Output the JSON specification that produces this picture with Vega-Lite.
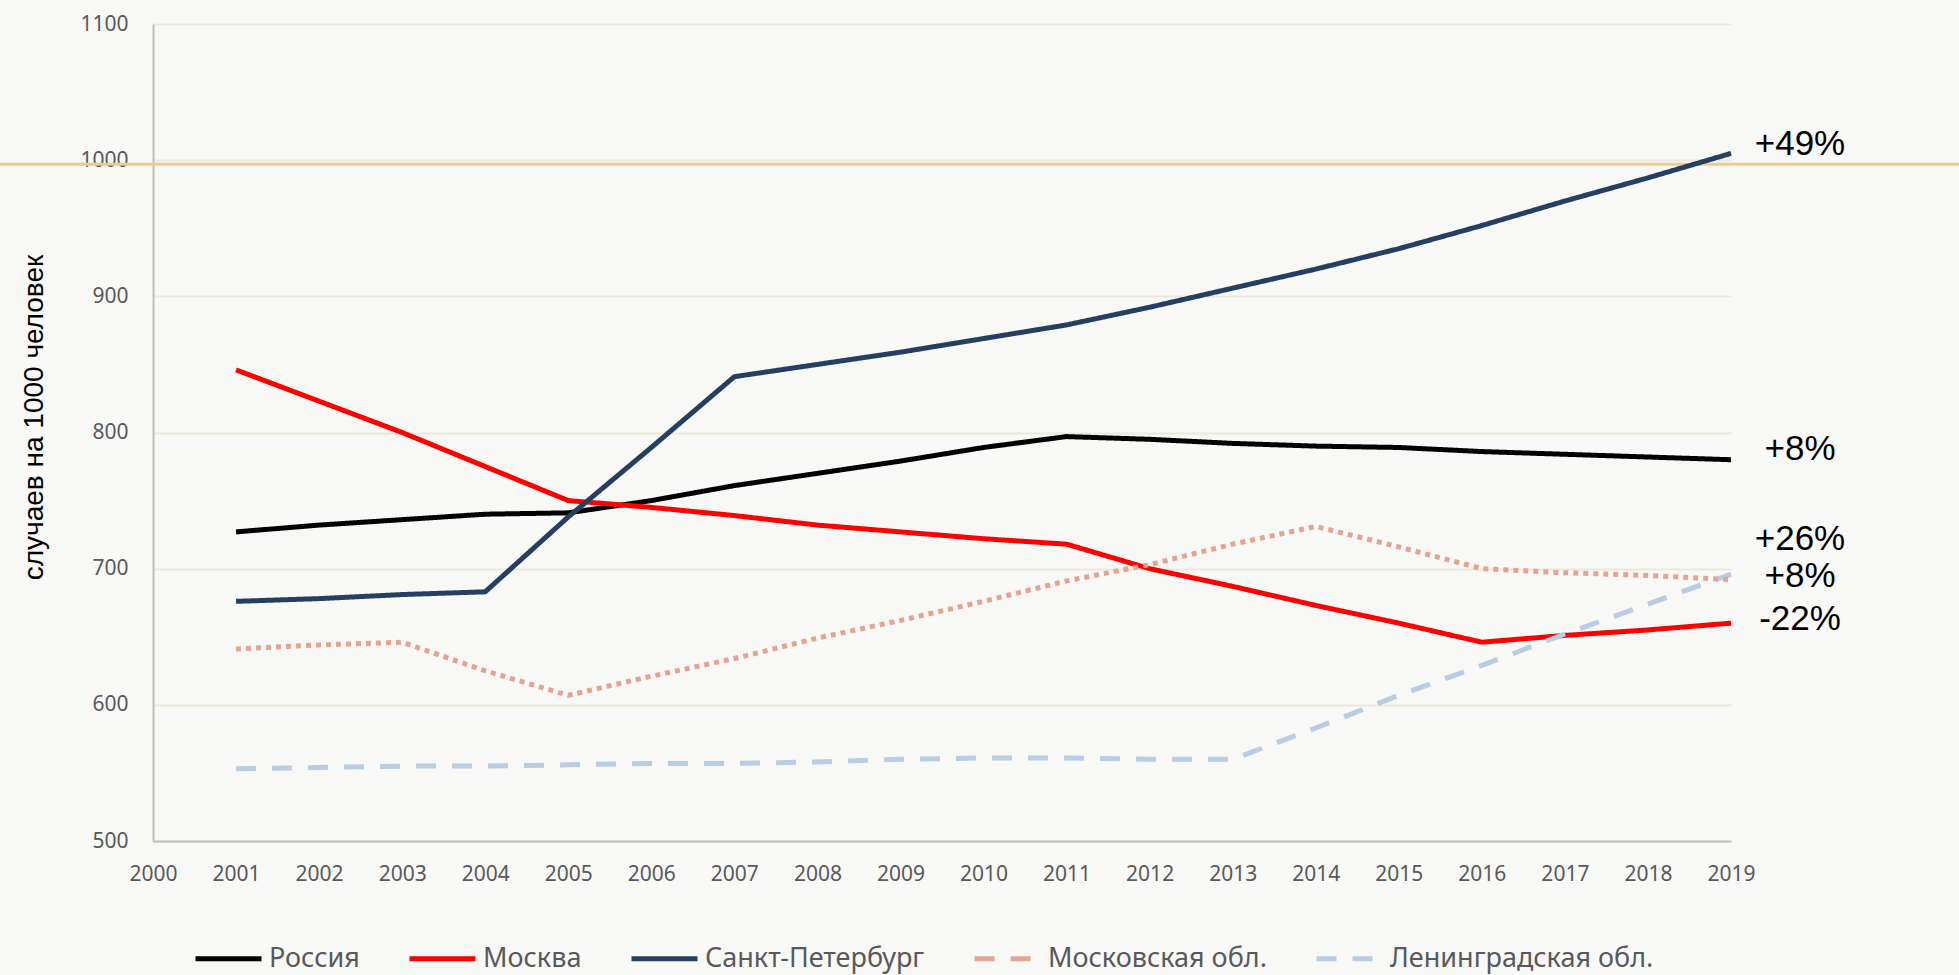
{
  "$schema": "https://vega.github.io/schema/vega-lite/v6.json",
  "autosize": {"type": "none"},
  "width": 1578,
  "height": 817,
  "padding": {"left": 153, "top": 24, "right": 228, "bottom": 134},
  "background": "#F8F8F7",
  "config": {
    "view": {"stroke": null},
    "axis": {"labelFont": "Noto Sans", "labelFontSize": 21, "labelColor": "#595959", "ticks": false, "domainColor": "#BFBFBF", "domainWidth": 2}
  },
  "datasets": {
    "lines": [
      {"year": 2001, "series": "Россия", "value": 727},
      {"year": 2002, "series": "Россия", "value": 732},
      {"year": 2003, "series": "Россия", "value": 736},
      {"year": 2004, "series": "Россия", "value": 740},
      {"year": 2005, "series": "Россия", "value": 741},
      {"year": 2006, "series": "Россия", "value": 750},
      {"year": 2007, "series": "Россия", "value": 761},
      {"year": 2008, "series": "Россия", "value": 770},
      {"year": 2009, "series": "Россия", "value": 779},
      {"year": 2010, "series": "Россия", "value": 789},
      {"year": 2011, "series": "Россия", "value": 797},
      {"year": 2012, "series": "Россия", "value": 795},
      {"year": 2013, "series": "Россия", "value": 792},
      {"year": 2014, "series": "Россия", "value": 790},
      {"year": 2015, "series": "Россия", "value": 789},
      {"year": 2016, "series": "Россия", "value": 786},
      {"year": 2017, "series": "Россия", "value": 784},
      {"year": 2018, "series": "Россия", "value": 782},
      {"year": 2019, "series": "Россия", "value": 780},
      {"year": 2001, "series": "Москва", "value": 846},
      {"year": 2002, "series": "Москва", "value": 823},
      {"year": 2003, "series": "Москва", "value": 800},
      {"year": 2004, "series": "Москва", "value": 775},
      {"year": 2005, "series": "Москва", "value": 750},
      {"year": 2006, "series": "Москва", "value": 745},
      {"year": 2007, "series": "Москва", "value": 739},
      {"year": 2008, "series": "Москва", "value": 732},
      {"year": 2009, "series": "Москва", "value": 727},
      {"year": 2010, "series": "Москва", "value": 722},
      {"year": 2011, "series": "Москва", "value": 718},
      {"year": 2012, "series": "Москва", "value": 700},
      {"year": 2013, "series": "Москва", "value": 687},
      {"year": 2014, "series": "Москва", "value": 673},
      {"year": 2015, "series": "Москва", "value": 660},
      {"year": 2016, "series": "Москва", "value": 646},
      {"year": 2017, "series": "Москва", "value": 651},
      {"year": 2018, "series": "Москва", "value": 655},
      {"year": 2019, "series": "Москва", "value": 660},
      {"year": 2001, "series": "Санкт-Петербург", "value": 676},
      {"year": 2002, "series": "Санкт-Петербург", "value": 678},
      {"year": 2003, "series": "Санкт-Петербург", "value": 681},
      {"year": 2004, "series": "Санкт-Петербург", "value": 683},
      {"year": 2005, "series": "Санкт-Петербург", "value": 738},
      {"year": 2006, "series": "Санкт-Петербург", "value": 789},
      {"year": 2007, "series": "Санкт-Петербург", "value": 841},
      {"year": 2008, "series": "Санкт-Петербург", "value": 850},
      {"year": 2009, "series": "Санкт-Петербург", "value": 859},
      {"year": 2010, "series": "Санкт-Петербург", "value": 869},
      {"year": 2011, "series": "Санкт-Петербург", "value": 879},
      {"year": 2012, "series": "Санкт-Петербург", "value": 892},
      {"year": 2013, "series": "Санкт-Петербург", "value": 906},
      {"year": 2014, "series": "Санкт-Петербург", "value": 920},
      {"year": 2015, "series": "Санкт-Петербург", "value": 935},
      {"year": 2016, "series": "Санкт-Петербург", "value": 952},
      {"year": 2017, "series": "Санкт-Петербург", "value": 970},
      {"year": 2018, "series": "Санкт-Петербург", "value": 987},
      {"year": 2019, "series": "Санкт-Петербург", "value": 1005},
      {"year": 2001, "series": "Ленинградская обл.", "value": 553},
      {"year": 2002, "series": "Ленинградская обл.", "value": 554},
      {"year": 2003, "series": "Ленинградская обл.", "value": 555},
      {"year": 2004, "series": "Ленинградская обл.", "value": 555},
      {"year": 2005, "series": "Ленинградская обл.", "value": 556},
      {"year": 2006, "series": "Ленинградская обл.", "value": 557},
      {"year": 2007, "series": "Ленинградская обл.", "value": 557},
      {"year": 2008, "series": "Ленинградская обл.", "value": 558},
      {"year": 2009, "series": "Ленинградская обл.", "value": 560},
      {"year": 2010, "series": "Ленинградская обл.", "value": 561},
      {"year": 2011, "series": "Ленинградская обл.", "value": 561},
      {"year": 2012, "series": "Ленинградская обл.", "value": 560},
      {"year": 2013, "series": "Ленинградская обл.", "value": 560},
      {"year": 2014, "series": "Ленинградская обл.", "value": 583},
      {"year": 2015, "series": "Ленинградская обл.", "value": 607},
      {"year": 2016, "series": "Ленинградская обл.", "value": 629},
      {"year": 2017, "series": "Ленинградская обл.", "value": 652},
      {"year": 2018, "series": "Ленинградская обл.", "value": 674},
      {"year": 2019, "series": "Ленинградская обл.", "value": 696},
      {"year": 2001, "series": "Московская обл.", "value": 641},
      {"year": 2002, "series": "Московская обл.", "value": 644},
      {"year": 2003, "series": "Московская обл.", "value": 646},
      {"year": 2004, "series": "Московская обл.", "value": 625},
      {"year": 2005, "series": "Московская обл.", "value": 607},
      {"year": 2006, "series": "Московская обл.", "value": 621},
      {"year": 2007, "series": "Московская обл.", "value": 634},
      {"year": 2008, "series": "Московская обл.", "value": 649},
      {"year": 2009, "series": "Московская обл.", "value": 662},
      {"year": 2010, "series": "Московская обл.", "value": 676},
      {"year": 2011, "series": "Московская обл.", "value": 691},
      {"year": 2012, "series": "Московская обл.", "value": 703},
      {"year": 2013, "series": "Московская обл.", "value": 718},
      {"year": 2014, "series": "Московская обл.", "value": 731},
      {"year": 2015, "series": "Московская обл.", "value": 716},
      {"year": 2016, "series": "Московская обл.", "value": 700},
      {"year": 2017, "series": "Московская обл.", "value": 697},
      {"year": 2018, "series": "Московская обл.", "value": 695},
      {"year": 2019, "series": "Московская обл.", "value": 692}
    ],
    "labels": [
      {"year": 2019, "value": 1003.8, "label": "+49%"},
      {"year": 2019, "value": 779.8, "label": "+8%"},
      {"year": 2019, "value": 713.7, "label": "+26%"},
      {"year": 2019, "value": 686.5, "label": "+8%"},
      {"year": 2019, "value": 655, "label": "-22%"}
    ]
  },
  "layer": [
    {
      "data": {"values": [{"level": 997}]},
      "mark": {"type": "rule", "color": "#EACD8C", "strokeWidth": 3, "clip": false},
      "encoding": {
        "y": {"field": "level", "type": "quantitative"},
        "x": {"datum": 1985, "type": "quantitative"},
        "x2": {"datum": 2035}
      }
    },
    {
      "data": {"name": "lines"},
      "transform": [{"filter": "datum.series !== 'Московская обл.'"}],
      "mark": {"type": "line", "strokeWidth": 5},
      "encoding": {
        "x": {
          "field": "year", "type": "quantitative",
          "scale": {"domain": [2000, 2019], "nice": false, "zero": false},
          "axis": {
            "title": null, "format": "d",
            "values": [2000, 2001, 2002, 2003, 2004, 2005, 2006, 2007, 2008, 2009, 2010, 2011, 2012, 2013, 2014, 2015, 2016, 2017, 2018, 2019],
            "gridColor": "#D9D9D9", "gridWidth": 1.5, "labelPadding": 22, "labelFlush": false
          }
        },
        "y": {
          "field": "value", "type": "quantitative",
          "scale": {"domain": [500, 1100], "nice": false, "zero": false},
          "axis": {
            "title": "случаев на 1000 человек", "format": "d",
            "values": [500, 600, 700, 800, 900, 1000, 1100],
            "gridColor": "#ECE8DC", "gridWidth": 2, "labelPadding": 25, "labelFlush": false,
            "titleFont": "Liberation Sans", "titleFontSize": 28, "titleFontWeight": "normal", "titleColor": "#000000",
            "titleX": -119, "titleY": 393, "titleAngle": -90, "titleAlign": "center", "titleBaseline": "middle"
          }
        },
        "color": {
          "field": "series", "type": "nominal",
          "scale": {
            "domain": ["Россия", "Москва", "Санкт-Петербург", "Московская обл.", "Ленинградская обл."],
            "range": ["#000000", "#FF0000", "#243F60", "#E6A390", "#B8CCE4"]
          },
          "legend": {
            "title": null, "orient": "none", "direction": "horizontal", "columns": 5,
            "legendX": 40, "legendY": 899,
            "symbolType": "stroke", "symbolSize": 4356, "symbolStrokeWidth": 5,
            "labelFont": "Noto Sans", "labelFontSize": 27, "labelColor": "#595959", "labelLimit": 500,
            "labelOffset": 5, "columnPadding": 39, "padding": 0
          }
        },
        "strokeDash": {
          "field": "series", "type": "nominal",
          "scale": {
            "domain": ["Россия", "Москва", "Санкт-Петербург", "Московская обл.", "Ленинградская обл."],
            "range": [[1, 0], [1, 0], [1, 0], [20, 16], [20, 16]]
          },
          "legend": null
        }
      }
    },
    {
      "data": {"name": "lines"},
      "transform": [{"filter": "datum.series === 'Московская обл.'"}],
      "mark": {"type": "line", "strokeWidth": 5, "strokeDash": [5, 5]},
      "encoding": {
        "x": {"field": "year", "type": "quantitative"},
        "y": {"field": "value", "type": "quantitative"},
        "color": {"field": "series", "type": "nominal"}
      }
    },
    {
      "data": {"name": "labels"},
      "mark": {"type": "text", "font": "Liberation Sans", "fontSize": 35, "color": "#000000", "align": "center", "baseline": "alphabetic", "dx": 69, "clip": false},
      "encoding": {
        "x": {"field": "year", "type": "quantitative"},
        "y": {"field": "value", "type": "quantitative"},
        "text": {"field": "label"}
      }
    }
  ]
}
